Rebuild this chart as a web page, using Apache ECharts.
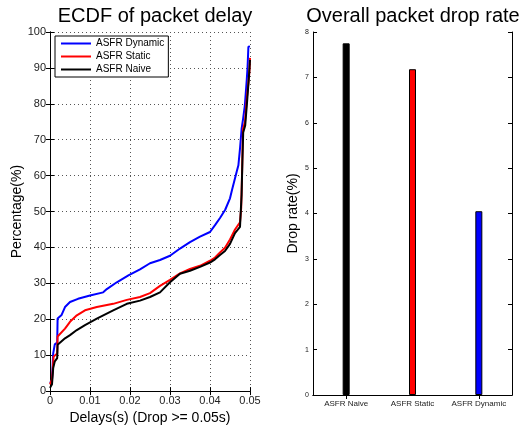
<!DOCTYPE html>
<html lang="en">
<head>
<meta charset="UTF-8">
<title>ECDF of packet delay / Overall packet drop rate</title>
<script src="https://cdn.jsdelivr.net/npm/echarts@6/dist/echarts.min.js"></script>
<style>
html, body { margin: 0; padding: 0; background: #fff; }
#chart { width: 523px; height: 430px; }
</style>
</head>
<body>
<div id="chart"></div>
<script>
// ECDF curves (delay in s, cumulative %)
const dynamicDelay = [0, 0.0005, 0.0008, 0.0012, 0.0018, 0.0019, 0.0029, 0.00375, 0.005, 0.007, 0.01, 0.0133, 0.0142, 0.0167, 0.0196, 0.0225, 0.025, 0.0275, 0.03, 0.0325, 0.035, 0.0375, 0.04, 0.04125, 0.0425, 0.0438, 0.045, 0.0455, 0.0467, 0.0471, 0.0475, 0.0479, 0.0483, 0.0487, 0.0492, 0.0494, 0.0496, 0.05];
const dynamicPct = [2.3, 3, 10.5, 13, 13.5, 20.2, 21.2, 23.4, 24.8, 25.7, 26.6, 27.5, 28.4, 30.3, 32.2, 33.9, 35.6, 36.5, 37.7, 39.7, 41.5, 43, 44.3, 46.2, 48.2, 50.5, 53.7, 56, 61.2, 62.9, 67.5, 73, 76, 79.4, 86.8, 90.4, 95.9, 96];

const staticDelay = [0, 0.0005, 0.0008, 0.0009, 0.0018, 0.0019, 0.00375, 0.005, 0.0067, 0.00875, 0.0117, 0.0158, 0.0192, 0.0225, 0.025, 0.0275, 0.03, 0.0325, 0.035, 0.0375, 0.04, 0.04125, 0.0425, 0.04375, 0.045, 0.04625, 0.0475, 0.0478, 0.048, 0.04825, 0.04875, 0.04925, 0.04975, 0.0499, 0.05];
const staticPct = [1.9, 3.3, 7.8, 9.6, 10.5, 15.2, 17.4, 19.3, 21.1, 22.5, 23.4, 24.3, 25.4, 26.2, 27.3, 29.3, 31, 32.8, 34, 34.9, 36.3, 37.2, 38.6, 39.9, 42.2, 45, 47, 51, 60, 73, 75, 82, 87.5, 90, 92.8];

const naiveDelay = [0, 0.0005, 0.0008, 0.0012, 0.0018, 0.0019, 0.00375, 0.005, 0.0067, 0.00875, 0.0117, 0.0158, 0.0192, 0.0225, 0.025, 0.0275, 0.03, 0.0325, 0.035, 0.0375, 0.04, 0.04125, 0.0425, 0.04375, 0.045, 0.04625, 0.0475, 0.0479, 0.0481, 0.0483, 0.0488, 0.0493, 0.0497, 0.05];
const naivePct = [0.9, 1.9, 6.4, 8.3, 9.2, 12.9, 14.7, 15.6, 17, 18.4, 20.2, 22.5, 24.3, 25.2, 26.2, 27.5, 30.3, 32.7, 33.5, 34.6, 35.8, 36.7, 37.9, 39, 41, 44, 45.7, 54.7, 64, 72, 74, 81, 87, 92.2];

// drop rate bars
const schemes = ['ASFR Naive', 'ASFR Static', 'ASFR Dynamic'];
const dropRate = [7.75, 7.18, 4.05];
const barColors = ['#000000', '#ff0000', '#0000ff'];

const pairs = (xs, ys) => xs.map((x, i) => [x, ys[i]]);
const font = 'Liberation Sans, Arial, sans-serif';
const blackLine = { show: true, lineStyle: { color: '#000', width: 1 } };
const tickIn = { show: true, inside: true, length: 4, lineStyle: { color: '#000' } };
const catTick = { show: true, inside: true, length: 4, alignWithLabel: true, lineStyle: { color: '#000' } };
const dotted = { show: true, lineStyle: { color: '#555', type: [1, 3], width: 1 } };

const chart = echarts.init(document.getElementById('chart'));
chart.setOption({
  animation: false,
  textStyle: { fontFamily: font, color: '#000' },
  title: [
    { text: 'ECDF of packet delay', left: 150, textAlign: 'center', top: 1,
      textStyle: { fontSize: 20, fontWeight: 'normal', color: '#000', fontFamily: font } },
    { text: 'Overall packet drop rate', left: 408, textAlign: 'center', top: 1,
      textStyle: { fontSize: 20, fontWeight: 'normal', color: '#000', fontFamily: font } }
  ],
  legend: {
    data: ['ASFR Dynamic', 'ASFR Static', 'ASFR Naive'],
    orient: 'vertical',
    left: 55, top: 36,
    padding: [2, 4, 2, 6],
    itemGap: 2,
    itemWidth: 30, itemHeight: 2,
    icon: 'rect',
    backgroundColor: '#fff',
    borderColor: '#000', borderWidth: 1,
    textStyle: { fontSize: 10, lineHeight: 11, color: '#000', fontFamily: font }
  },
  grid: [
    { left: 50, top: 32, width: 200, height: 363 },
    { left: 313, top: 32, width: 199, height: 363 }
  ],
  xAxis: [
    { type: 'value', gridIndex: 0, min: 0, max: 0.05, interval: 0.01, position: 'bottom',
      axisLine: blackLine, axisTick: tickIn, splitLine: dotted,
      axisLabel: { fontSize: 11, color: '#222', margin: 4,
        formatter: v => v === 0 ? '0' : v.toFixed(2) },
      name: 'Delays(s) (Drop >= 0.05s)', nameLocation: 'middle', nameGap: 15,
      nameTextStyle: { fontSize: 14, color: '#000' } },
    { type: 'value', gridIndex: 0, min: 0, max: 0.05, interval: 0.01, position: 'top',
      axisLine: blackLine, axisTick: tickIn, axisLabel: { show: false }, splitLine: { show: false } },
    { type: 'category', gridIndex: 1, data: schemes, position: 'bottom',
      axisLine: blackLine, axisTick: catTick,
      axisLabel: { fontSize: 8, color: '#222', margin: 5, interval: 0 } },
    { type: 'category', gridIndex: 1, data: schemes, position: 'top',
      axisLine: blackLine, axisTick: catTick, axisLabel: { show: false } }
  ],
  yAxis: [
    { type: 'value', gridIndex: 0, min: 0, max: 100, interval: 10, position: 'left',
      axisLine: blackLine, axisTick: tickIn, splitLine: dotted,
      axisLabel: { fontSize: 11, color: '#222', margin: 4 },
      name: 'Percentage(%)', nameLocation: 'middle', nameGap: 26,
      nameTextStyle: { fontSize: 14, color: '#000' } },
    { type: 'value', gridIndex: 0, min: 0, max: 100, interval: 10, position: 'right',
      axisLine: blackLine, axisTick: tickIn, axisLabel: { show: false }, splitLine: { show: false } },
    { type: 'value', gridIndex: 1, min: 0, max: 8, interval: 1, position: 'left',
      axisLine: blackLine, axisTick: tickIn, splitLine: { show: false },
      axisLabel: { fontSize: 7, color: '#222', margin: 4 },
      name: 'Drop rate(%)', nameLocation: 'middle', nameGap: 13,
      nameTextStyle: { fontSize: 14, color: '#000' } },
    { type: 'value', gridIndex: 1, min: 0, max: 8, interval: 1, position: 'right',
      axisLine: blackLine, axisTick: tickIn, axisLabel: { show: false }, splitLine: { show: false } }
  ],
  series: [
    { name: 'ASFR Dynamic', type: 'line', xAxisIndex: 0, yAxisIndex: 0,
      data: pairs(dynamicDelay, dynamicPct), symbol: 'none',
      lineStyle: { color: '#0000ff', width: 2 }, itemStyle: { color: '#0000ff' } },
    { name: 'ASFR Static', type: 'line', xAxisIndex: 0, yAxisIndex: 0,
      data: pairs(staticDelay, staticPct), symbol: 'none',
      lineStyle: { color: '#ff0000', width: 2 }, itemStyle: { color: '#ff0000' } },
    { name: 'ASFR Naive', type: 'line', xAxisIndex: 0, yAxisIndex: 0,
      data: pairs(naiveDelay, naivePct), symbol: 'none',
      lineStyle: { color: '#000000', width: 2 }, itemStyle: { color: '#000000' } },
    { name: 'Drop rate', type: 'bar', xAxisIndex: 2, yAxisIndex: 2, barWidth: 7,
      data: dropRate.map((v, i) => ({ value: v, itemStyle: { color: barColors[i] } })),
      itemStyle: { borderColor: '#000', borderWidth: 1 } }
  ]
});
</script>
</body>
</html>
